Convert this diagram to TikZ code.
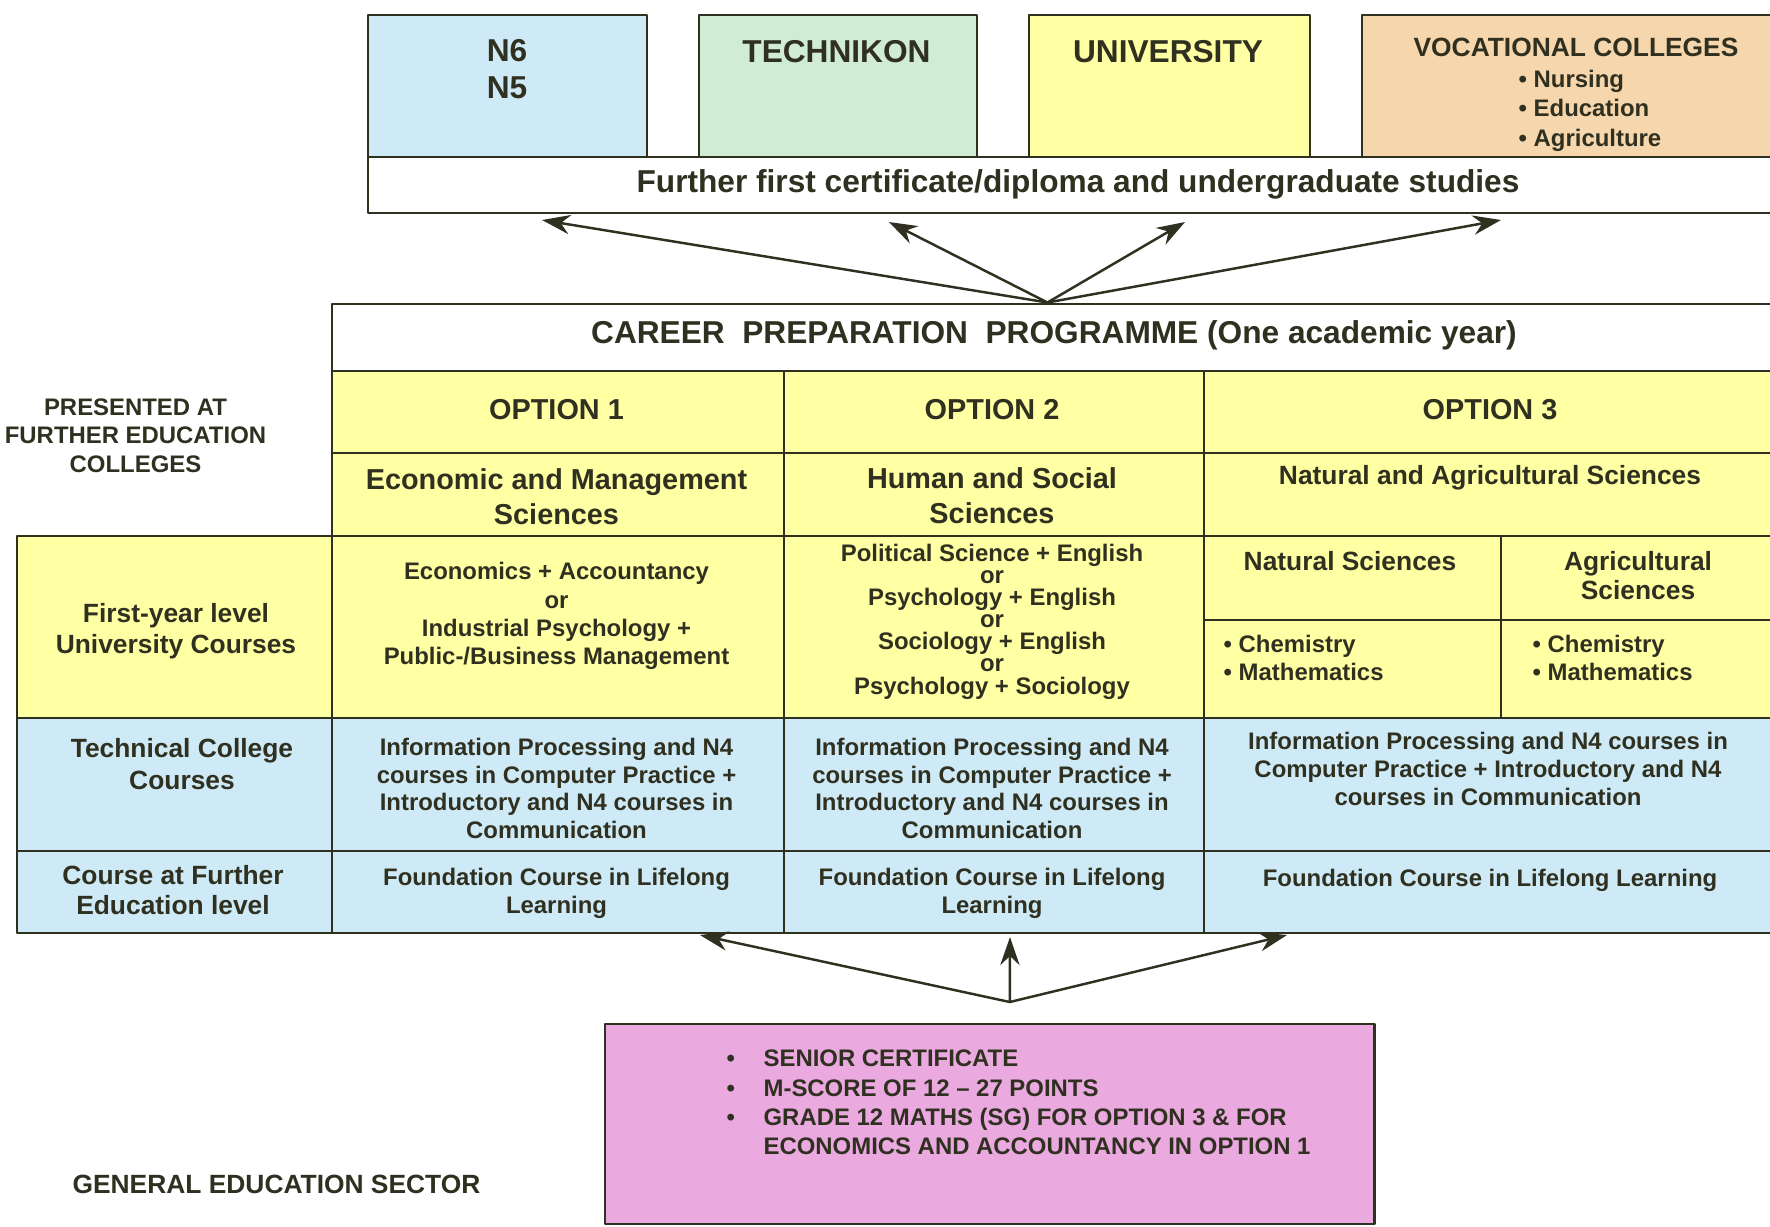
\documentclass[tikz,border=0pt]{standalone}
\usepackage{fontspec}
\setmainfont{Liberation Sans}
\usepackage{tikz}
\usetikzlibrary{arrows.meta}
\definecolor{ink}{RGB}{48,48,32}
\definecolor{skyfill}{RGB}{206,234,246}
\definecolor{mintfill}{RGB}{208,236,212}
\definecolor{lemonfill}{RGB}{255,255,164}
\definecolor{peachfill}{RGB}{246,214,172}
\definecolor{pinkfill}{RGB}{234,170,224}
\tikzset{
  cell/.style={draw=ink,line width=0.6pt,inner sep=0pt,anchor=north west},
  txt/.style={text=ink,align=center,inner sep=0pt},
  fnine/.style={txt,font=\bfseries\fontsize{9}{10.3}\selectfont},
  feight/.style={txt,font=\bfseries\fontsize{8.2}{10}\selectfont},
  fseven/.style={txt,font=\bfseries\fontsize{7.5}{9}\selectfont},
  fsix/.style={txt,font=\bfseries\fontsize{6.8}{7.9}\selectfont},
  link/.style={->,draw=ink,line width=0.7pt}
}

\begin{document}
\begin{tikzpicture}[line cap=round,line join=round,>={Stealth[length=8pt,width=5.5pt]},x=0.01cm,y=-0.01cm]
\fill[white] (0,0) rectangle (1770,1226);
\useasboundingbox (0,0) rectangle (1770,1226);
% where the programme leads
\node[cell,fill=skyfill,minimum width=2.79cm,minimum height=1.425cm] (n6) at (367,13.5) {};
\node[cell,fill=mintfill,minimum width=2.78cm,minimum height=1.425cm] (tech) at (698,13.5) {};
\node[cell,fill=lemonfill,minimum width=2.81cm,minimum height=1.425cm] (univ) at (1028,13.5) {};
\node[cell,fill=peachfill,minimum width=4.2cm,minimum height=1.425cm] (voc) at (1361,13.5) {};
\node[cell,fill=white,minimum width=14.15cm,minimum height=0.56cm] (further) at (367,156) {};
\node[fnine] (t-n6) at (507,69) {N6\\N5};
\node[fnine] (t-tech) at (836.5,52) {TECHNIKON};
\node[fnine] (t-univ) at (1168,52) {UNIVERSITY};
\node[fseven] (t-voc) at (1576,47.4) {VOCATIONAL COLLEGES};
\node[fsix,align=left,anchor=west,font=\bfseries\fontsize{6.8}{8.4}\selectfont] (t-vocl) at (1518,110.6) {\textbullet\ Nursing\\\textbullet\ Education\\\textbullet\ Agriculture};
\node[fnine] (t-fur) at (1078,184) {Further first certificate/diploma and undergraduate studies};

% programme table
\node[cell,fill=white,minimum width=14.5cm,minimum height=0.675cm] (career) at (331,302.5) {};
\node[cell,fill=lemonfill,minimum width=4.52cm,minimum height=0.815cm] (opt1) at (331,370) {};
\node[cell,fill=lemonfill,minimum width=4.2cm,minimum height=0.815cm] (opt2) at (783,370) {};
\node[cell,fill=lemonfill,minimum width=5.78cm,minimum height=0.815cm] (opt3) at (1203,370) {};
\node[cell,fill=lemonfill,minimum width=4.52cm,minimum height=0.835cm] (sub1) at (331,451.5) {};
\node[cell,fill=lemonfill,minimum width=4.2cm,minimum height=0.835cm] (sub2) at (783,451.5) {};
\node[cell,fill=lemonfill,minimum width=5.78cm,minimum height=0.835cm] (sub3) at (1203,451.5) {};
\node[cell,fill=lemonfill,minimum width=3.15cm,minimum height=1.82cm] (fy) at (16,535) {};
\node[cell,fill=lemonfill,minimum width=4.52cm,minimum height=1.82cm] (c11) at (331,535) {};
\node[cell,fill=lemonfill,minimum width=4.2cm,minimum height=1.82cm] (c12) at (783,535) {};
\node[cell,fill=lemonfill,minimum width=2.97cm,minimum height=0.836cm] (nat) at (1203,535) {};
\node[cell,fill=lemonfill,minimum width=2.81cm,minimum height=0.836cm] (agr) at (1500,535) {};
\node[cell,fill=lemonfill,minimum width=2.97cm,minimum height=0.984cm] (natl) at (1203,618.6) {};
\node[cell,fill=lemonfill,minimum width=2.81cm,minimum height=0.984cm] (agrl) at (1500,618.6) {};
\node[cell,fill=skyfill,minimum width=3.15cm,minimum height=1.33cm] (tc) at (16,717) {};
\node[cell,fill=skyfill,minimum width=4.52cm,minimum height=1.33cm] (c21) at (331,717) {};
\node[cell,fill=skyfill,minimum width=4.2cm,minimum height=1.33cm] (c22) at (783,717) {};
\node[cell,fill=skyfill,minimum width=5.78cm,minimum height=1.33cm] (c23) at (1203,717) {};
\node[cell,fill=skyfill,minimum width=3.15cm,minimum height=0.82cm] (cf) at (16,850) {};
\node[cell,fill=skyfill,minimum width=4.52cm,minimum height=0.82cm] (c31) at (331,850) {};
\node[cell,fill=skyfill,minimum width=4.2cm,minimum height=0.82cm] (c32) at (783,850) {};
\node[cell,fill=skyfill,minimum width=5.78cm,minimum height=0.82cm] (c33) at (1203,850) {};

\node[fnine] (t-car) at (1054,335) {CAREER\ \ PREPARATION\ \ PROGRAMME (One academic year)};
\node[feight] (t-o1) at (556.5,410) {OPTION 1};
\node[feight] (t-o2) at (992,410) {OPTION 2};
\node[feight] (t-o3) at (1490,410) {OPTION 3};
\node[feight] (t-s1) at (556.5,497) {Economic and Management\\Sciences};
\node[feight] (t-s2) at (992,496) {Human and Social\\Sciences};
\node[fseven] (t-s3) at (1490,477.5) {Natural and Agricultural Sciences};
\node[fsix,font=\bfseries\fontsize{6.8}{8}\selectfont] (t-pres) at (135.5,435.7) {PRESENTED AT\\FURTHER EDUCATION\\COLLEGES};
\node[fseven] (t-fy) at (176,631) {First-year level\\University Courses};
\node[fseven] (t-tc) at (182,764) {Technical College\\Courses};
\node[fseven,font=\bfseries\fontsize{7.5}{8.7}\selectfont] (t-cf) at (173,890) {Course at Further\\Education level};
\node[fsix,font=\bfseries\fontsize{6.8}{8}\selectfont] (t-c11) at (556.5,616) {Economics + Accountancy\\or\\Industrial Psychology +\\Public-/Business Management};
\node[fsix,font=\bfseries\fontsize{6.8}{6.3}\selectfont] (t-c12) at (992,621.4) {Political Science + English\\or\\Psychology + English\\or\\Sociology + English\\or\\Psychology + Sociology};
\node[fseven] (t-nat) at (1350,561) {Natural Sciences};
\node[fseven,font=\bfseries\fontsize{7.5}{8.4}\selectfont] (t-agr) at (1638,575.7) {Agricultural\\Sciences};
\node[fsix,align=left,anchor=west,font=\bfseries\fontsize{6.8}{8}\selectfont] (t-natl) at (1223,657.5) {\textbullet\ Chemistry\\\textbullet\ Mathematics};
\node[fsix,align=left,anchor=west,font=\bfseries\fontsize{6.8}{8}\selectfont] (t-agrl) at (1532,657.5) {\textbullet\ Chemistry\\\textbullet\ Mathematics};
\node[fsix] (t-c21) at (556.5,788.5) {Information Processing and N4\\courses in Computer Practice +\\Introductory and N4 courses in\\Communication};
\node[fsix] (t-c22) at (992,788.5) {Information Processing and N4\\courses in Computer Practice +\\Introductory and N4 courses in\\Communication};
\node[fsix] (t-c23) at (1488,769) {Information Processing and N4 courses in\\Computer Practice + Introductory and N4\\courses in Communication};
\node[fsix] (t-c31) at (556.5,893) {Foundation Course in Lifelong\\Learning};
\node[fsix] (t-c32) at (992,893) {Foundation Course in Lifelong\\Learning};
\node[fsix] (t-c33) at (1490,880.5) {Foundation Course in Lifelong Learning};

% entry requirements
\node[cell,fill=pinkfill,minimum width=7.69cm,minimum height=2.0cm] (pink) at (604,1023) {};
\node[fsix,align=left,anchor=west,font=\bfseries\fontsize{6.8}{8.3}\selectfont] (t-pink) at (726,1102.5) {\makebox[10.5pt][l]{\textbullet}SENIOR CERTIFICATE\\\makebox[10.5pt][l]{\textbullet}M-SCORE OF 12 -- 27 POINTS\\\makebox[10.5pt][l]{\textbullet}GRADE 12 MATHS (SG) FOR OPTION 3 \& FOR\\\hspace*{10.5pt}ECONOMICS AND ACCOUNTANCY IN OPTION 1};
\node[fseven] (t-gen) at (276.5,1184) {GENERAL EDUCATION SECTOR};

% arrows
\coordinate (apex) at ([xshift=-0.1cm]career.north);
\coordinate (up1) at (542,220);
\coordinate (up2) at (889,222);
\coordinate (up3) at (1185,222);
\coordinate (up4) at (1501,220);
\foreach \c in {up1,up2,up3,up4}
\draw[link] (apex) -- (\c);
\coordinate (src) at ([xshift=0.2cm,yshift=0.21cm]pink.north);
\coordinate (dn1) at (700,935);
\coordinate (dn2) at (1010,937);
\coordinate (dn3) at (1287,935);
\foreach \c in {dn1,dn2,dn3}
\draw[link] (src) -- (\c);
\end{tikzpicture}
\end{document}
